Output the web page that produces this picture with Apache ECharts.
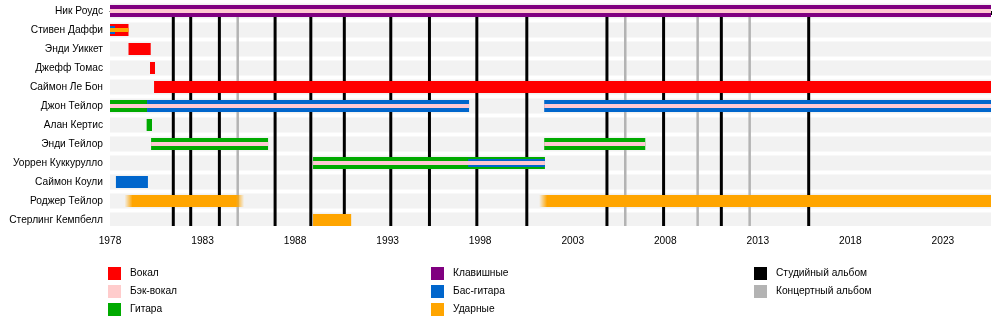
<!DOCTYPE html>
<html>
<head>
<meta charset="utf-8">
<script src="https://cdn.jsdelivr.net/npm/echarts@6/dist/echarts.min.js"></script>
<style>
  html, body { margin: 0; padding: 0; background: #fff; }
  #chart { width: 1000px; height: 325px; }
</style>
</head>
<body>
<div id="chart"></div>
<script>
// Band members, top to bottom
const members = [
  'Ник Роудс', 'Стивен Даффи', 'Энди Уиккет', 'Джефф Томас', 'Саймон Ле Бон',
  'Джон Тейлор', 'Алан Кертис', 'Энди Тейлор', 'Уоррен Куккурулло',
  'Саймон Коули', 'Роджер Тейлор', 'Стерлинг Кемпбелл'
];

// Time range of the timeline (years)
const START = 1978;
const END = 2025.6;
const TICK_STEP = 5;

// Membership spans: [member index, from, to]
const vocals = [[1, 1978, 1979], [2, 1979, 1980.2], [3, 1980.16, 1980.43], [4, 1980.38, END]];
const guitar = [[5, 1978, 1980], [6, 1979.98, 1980.27], [7, 1980.22, 1986.54], [7, 2001.46, 2006.92], [8, 1988.97, 2001.5]];
const keyboards = [[0, 1978, END]];
const bass = [[5, 1980, 1997.4], [5, 2001.46, END], [9, 1978.32, 1980.05]];
const drums = [[10, 1979, 1985.03], [10, 2001.4, END], [11, 1988.97, 1991.03]];
// Secondary instruments, drawn as narrower stripes inside the main bar
const bassSecondary = [[1, 1978, 1978.27], [8, 1997.35, 2001.5]];
const drumsSecondary = [[1, 1978, 1979]];
const backingVocals = [[0, 1978, END], [5, 1978, 1997.4], [5, 2001.46, END], [7, 1980.22, 1986.54], [7, 2001.46, 2006.92], [8, 1988.97, 2001.5]];

// Album release dates (decimal years)
const studioAlbums = [1981.42, 1982.36, 1983.91, 1986.92, 1988.85, 1990.66, 1993.17, 1995.26, 1997.82, 2000.52, 2004.85, 2007.91, 2011.03, 2015.75];
const liveAlbums = [1984.9, 2005.84, 2009.75, 2012.56];

// Legend texts
const roleNames = ['Вокал', 'Бэк-вокал', 'Гитара', 'Клавишные', 'Бас-гитара', 'Ударные'];
const albumNames = ['Студийный альбом', 'Концертный альбом'];

// ---- styling ----
const FONT = '"Liberation Sans", Arial, sans-serif';
const FS = 10.2;
const roleColors = ['#FF0000', '#FFC8D2', '#00AA00', '#800080', '#0066CC', '#FFA500'];
const legendColors = ['#FF0000', '#FFCCCC', '#00AA00', '#800080', '#0066CC', '#FFA500'];
const albumColors = ['#000000', '#B3B3B3'];
const albumWidths = [3, 2.5];
const layerHeights = [12, 8, 4];
const fadedMembers = ['Роджер Тейлор'];

// role index: 0 vocals, 1 backing, 2 guitar, 3 keys, 4 bass, 5 drums
// layer: 0 full bar, 1 inner stripe, 2 centre stripe
const barData = [];
function addSpans(spans, role, layer) {
  spans.forEach(s => barData.push([s[1], s[2], s[0], role, layer]));
}
addSpans(keyboards, 3, 0);
addSpans(vocals, 0, 0);
addSpans(guitar, 2, 0);
addSpans(bass, 4, 0);
addSpans(drums, 5, 0);
addSpans(bassSecondary, 4, 1);
addSpans(drumsSecondary, 5, 2);
addSpans(backingVocals, 1, 2);

const albumData = studioAlbums.map(y => [y, 0]).concat(liveAlbums.map(y => [y, 1]));

const GRID_TOP = 2, GRID_H = 224, ROW_STEP = 19, FIRST_ROW_Y = 11;
const yMin = -(FIRST_ROW_Y - GRID_TOP) / ROW_STEP;
const yMax = yMin + GRID_H / ROW_STEP;

const chart = echarts.init(document.getElementById('chart'), null, { renderer: 'canvas' });

function legendItems() {
  const els = [];
  const cols = [
    { x: 108, items: [0, 1, 2].map(i => [roleNames[i], legendColors[i]]) },
    { x: 431, items: [3, 4, 5].map(i => [roleNames[i], legendColors[i]]) },
    { x: 754, items: [0, 1].map(i => [albumNames[i], albumColors[i]]) }
  ];
  cols.forEach(col => {
    col.items.forEach((it, k) => {
      const top = 267 + k * 18;
      els.push({ type: 'rect', shape: { x: col.x, y: top, width: 13, height: 13 }, style: { fill: it[1] } });
      els.push({ type: 'text', x: col.x + 22, y: top + 6.5,
        style: { text: it[0], font: FS + 'px ' + FONT, fill: '#000', verticalAlign: 'middle', align: 'left' } });
    });
  });
  return els;
}

chart.setOption({
  animation: false,
  grid: { left: 110, right: 9, top: GRID_TOP, height: GRID_H },
  xAxis: {
    type: 'value', min: START, max: END, interval: TICK_STEP,
    axisLine: { show: true, lineStyle: { color: '#000', width: 1 } },
    axisTick: { show: true, length: 4, lineStyle: { color: '#000' } },
    minorTick: { show: true, splitNumber: TICK_STEP, length: 2, lineStyle: { color: '#000' } },
    splitLine: { show: false },
    axisLabel: { color: '#000', fontSize: FS, fontFamily: FONT, margin: 10, showMaxLabel: false,
      formatter: v => String(v) }
  },
  yAxis: { type: 'value', min: yMin, max: yMax, inverse: true, show: false },
  graphic: legendItems(),
  series: [
    {
      // row backgrounds and member names
      type: 'custom', silent: true, z: 1,
      data: members.map((m, i) => [START, i]),
      renderItem(params, api) {
        const cs = params.coordSys;
        const i = api.value(1);
        const y = api.coord([START, i])[1];
        const top = Math.max(cs.y, y - 7.5);
        const bot = Math.min(cs.y + cs.height, y + 7.5);
        return { type: 'group', children: [
          { type: 'rect', shape: { x: cs.x, y: top, width: cs.width, height: bot - top }, style: { fill: '#F2F2F2' } },
          { type: 'text', x: cs.x - 7, y: y,
            style: { text: members[i], font: FS + 'px ' + FONT, fill: '#000', align: 'right', verticalAlign: 'middle' } }
        ] };
      }
    },
    {
      // album release markers, from the first row down to the axis
      type: 'custom', silent: true, z: 2,
      data: albumData,
      renderItem(params, api) {
        const cs = params.coordSys;
        const t = api.value(1);
        const p = api.coord([api.value(0), 0]);
        return { type: 'line', shape: { x1: p[0], y1: p[1], x2: p[0], y2: cs.y + cs.height },
          style: { stroke: albumColors[t], lineWidth: albumWidths[t] } };
      }
    },
    {
      // membership bars
      type: 'custom', silent: true, z: 3,
      data: barData,
      renderItem(params, api) {
        const cs = params.coordSys;
        const row = api.value(2), role = api.value(3), layer = api.value(4);
        const x1 = api.coord([api.value(0), row])[0];
        const x2 = api.coord([api.value(1), row])[0];
        const y = api.coord([START, row])[1];
        const h = layerHeights[layer];
        let fill = roleColors[role];
        let rx1 = x1, rx2 = x2;
        if (fadedMembers.indexOf(members[row]) >= 0) {
          const fadeRight = api.value(1) < END;
          rx1 = x1 - 4;
          if (fadeRight) rx2 = x2 + 4;
          const w = rx2 - rx1;
          const f = 8 / w;
          const c = roleColors[role];
          const stops = [{ offset: 0, color: 'rgba(255,165,0,0)' }, { offset: f, color: c }];
          if (fadeRight) {
            stops.push({ offset: 1 - f, color: c }, { offset: 1, color: 'rgba(255,165,0,0)' });
          } else {
            stops.push({ offset: 1, color: c });
          }
          fill = new echarts.graphic.LinearGradient(0, 0, 1, 0, stops);
        }
        rx2 = Math.min(rx2, cs.x + cs.width);
        return { type: 'rect', shape: { x: rx1, y: y - h / 2, width: rx2 - rx1, height: h }, style: { fill: fill } };
      }
    }
  ]
});
</script>
</body>
</html>
